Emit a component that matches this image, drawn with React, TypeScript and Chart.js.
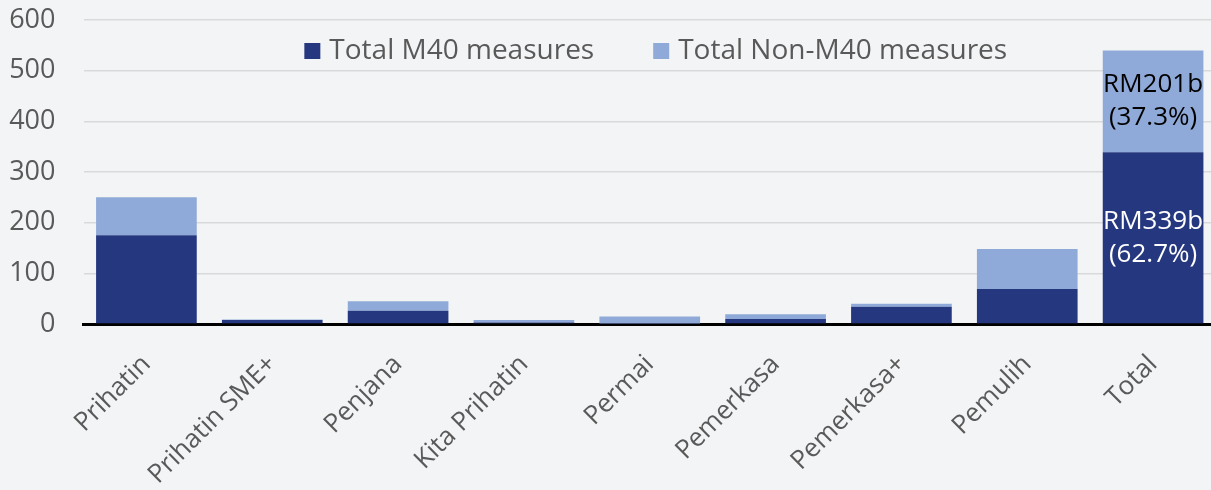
import React, { useEffect, useRef } from "react";
import { Chart, registerables } from "chart.js";

Chart.register(...registerables);

const categories = ["Prihatin", "Prihatin SME+", "Penjana", "Kita Prihatin", "Permai", "Pemerkasa", "Pemerkasa+", "Pemulih", "Total"];
const m40Values = [175, 8, 26, 3, 1, 10, 34, 69, 339];
const nonM40Values = [75, 1, 19, 5, 14, 9, 6, 79, 201];
const m40Labels = ["", "", "", "", "", "", "", "", "RM339b\n(62.7%)"];
const nonM40Labels = ["", "", "", "", "", "", "", "", "RM201b\n(37.3%)"];
const seriesNames = ["Total M40 measures", "Total Non-M40 measures"];
const yTicks = [0, 100, 200, 300, 400, 500, 600];

const DARK = "#25387f";
const LIGHT = "#8faad8";
const TEXT = "#595959";
const FONT = "'Open Sans', 'Noto Sans', sans-serif";

const barLabelPlugin = {
  id: "barLabels",
  afterDatasetsDraw(chart: any) {
    const ctx = chart.ctx;
    const sets = [
      { labels: m40Labels, color: "#ffffff" },
      { labels: nonM40Labels, color: "#000000" },
    ];
    sets.forEach((s, di) => {
      const meta = chart.getDatasetMeta(di);
      meta.data.forEach((bar: any, i: number) => {
        const txt = s.labels[i];
        if (!txt) return;
        const lines = txt.split("\n");
        const cy = (bar.y + bar.base) / 2;
        const lh = 33;
        ctx.save();
        ctx.font = `26px ${FONT}`;
        ctx.fillStyle = s.color;
        ctx.textAlign = "center";
        ctx.textBaseline = "middle";
        lines.forEach((ln: string, k: number) => {
          ctx.fillText(ln, bar.x, cy + (k - (lines.length - 1) / 2) * lh);
        });
        ctx.restore();
      });
    });
  },
};

const legendPlugin = {
  id: "innerLegend",
  afterDraw(chart: any) {
    const ctx = chart.ctx;
    const area = chart.chartArea;
    const box = 16;
    const gap = 9;
    const itemGap = 59;
    ctx.save();
    ctx.font = `28px ${FONT}`;
    const widths = seriesNames.map((n) => ctx.measureText(n).width);
    const total = widths.reduce((a, w) => a + box + gap + w, 0) + itemGap * (seriesNames.length - 1);
    let x = (area.left + area.right) / 2 + 6 - total / 2;
    const cy = area.top + 31;
    const colors = [DARK, LIGHT];
    seriesNames.forEach((n, i) => {
      ctx.fillStyle = colors[i];
      ctx.fillRect(x, cy - box / 2, box, box);
      x += box + gap;
      ctx.fillStyle = TEXT;
      ctx.textAlign = "left";
      ctx.textBaseline = "middle";
      ctx.fillText(n, x, cy);
      x += widths[i] + itemGap;
    });
    ctx.restore();
  },
};

const bgPlugin = {
  id: "bg",
  beforeDraw(chart: any) {
    const ctx = chart.ctx;
    ctx.save();
    ctx.fillStyle = "#f3f4f6";
    ctx.fillRect(0, 0, chart.width, chart.height);
    ctx.restore();
  },
};

export default function App() {
  const ref = useRef<HTMLCanvasElement>(null);
  useEffect(() => {
    document.body.style.margin = "0";
    const chart = new Chart(ref.current!, {
      type: "bar",
      data: {
        labels: categories,
        datasets: [
          { label: seriesNames[0], data: m40Values, backgroundColor: DARK, borderWidth: 0, barPercentage: 0.8, categoryPercentage: 1 },
          { label: seriesNames[1], data: nonM40Values, backgroundColor: LIGHT, borderWidth: 0, barPercentage: 0.8, categoryPercentage: 1 },
        ],
      },
      options: {
        responsive: false,
        animation: false,
        layout: { padding: { top: 20, left: 0, right: 0, bottom: 0 } },
        plugins: { legend: { display: false }, tooltip: { enabled: false } },
        scales: {
          x: {
            stacked: true,
            grid: { display: false },
            border: { display: true, color: "#000000", width: 3 },
            ticks: {
              color: TEXT,
              font: { size: 26, family: FONT },
              minRotation: 45,
              maxRotation: 45,
              padding: 17,
              labelOffset: 0,
              autoSkip: false,
            },
            afterFit(scale: any) {
              scale.height = 166;
              scale.paddingLeft = 0;
              scale.paddingRight = 0;
            },
          },
          y: {
            stacked: true,
            min: 0,
            max: 600,
            afterBuildTicks(scale: any) {
              scale.ticks = yTicks.map((v) => ({ value: v }));
            },
            grid: { color: "#d9d9d9", lineWidth: 1.5, drawTicks: false },
            border: { display: false },
            ticks: {
              color: TEXT,
              font: { size: 27, family: FONT },
              padding: 28,
            },
            afterFit(scale: any) {
              scale.width = 83.5;
              scale.paddingTop = 0;
              scale.paddingBottom = 0;
            },
          },
        },
      },
      plugins: [bgPlugin, barLabelPlugin, legendPlugin],
    });
    return () => chart.destroy();
  }, []);
  return (
    <div style={{ width: 1211, height: 490, overflow: "hidden", background: "#f3f4f6" }}>
      <canvas ref={ref} width={1216} height={490} style={{ display: "block" }} />
    </div>
  );
}
